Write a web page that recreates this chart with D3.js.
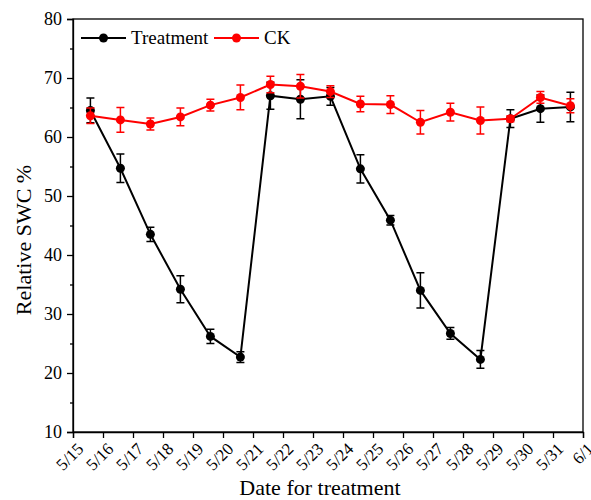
<!DOCTYPE html>
<html>
<head>
<meta charset="utf-8">
<title>Relative SWC</title>
<style>
body { margin: 0; background: #fff; }
svg text { font-family: "Liberation Serif", "Times New Roman", serif; }
</style>
</head>
<body>
<script src="https://d3js.org/d3.v7.min.js"></script>
<script>
// dates of measurement (day of May), tick labels of the x axis
var days = [15, 16, 17, 18, 19, 20, 21, 22, 23, 24, 25, 26, 27, 28, 29, 30, 31];
var tickDays = [15, 16, 17, 18, 19, 20, 21, 22, 23, 24, 25, 26, 27, 28, 29, 30, 31, 32];
var tickLabels = ["5/15", "5/16", "5/17", "5/18", "5/19", "5/20", "5/21", "5/22", "5/23",
  "5/24", "5/25", "5/26", "5/27", "5/28", "5/29", "5/30", "5/31", "6/1"];

// relative SWC %, mean and error
var treatment = [64.5, 54.7, 43.5, 34.2, 26.2, 22.7, 67.0, 66.4, 66.9, 54.6, 45.9, 34.0, 26.7, 22.3, 63.1, 64.8, 65.1];
var treatmentErr = [2.1, 2.4, 1.2, 2.3, 1.2, 0.9, 2.3, 3.3, 1.5, 2.4, 0.8, 3.0, 1.0, 1.5, 1.5, 2.3, 2.5];
var ck = [63.6, 62.9, 62.2, 63.4, 65.4, 66.7, 68.9, 68.6, 67.7, 65.6, 65.5, 62.5, 64.2, 62.8, 63.1, 66.7, 65.3];
var ckErr = [1.3, 2.1, 1.0, 1.5, 1.0, 2.1, 1.4, 2.0, 1.0, 1.3, 1.5, 2.0, 1.5, 2.3, 0.5, 1.0, 1.2];
var yTicks = [10, 20, 30, 40, 50, 60, 70, 80];
var yMinor = [15, 25, 35, 45, 55, 65, 75];

var width = 591, height = 500;
var margin = {top: 19, right: 8, bottom: 68, left: 73};
var shift = 0.58; // punkty pomiedzy kreskami dni

var svg = d3.select('body').append('svg')
  .attr('width', width)
  .attr('height', height)
  .attr('font-family', '"Liberation Serif", serif');

var x = d3.scaleLinear().domain([15, 32]).range([margin.left, width - margin.right]);
var y = d3.scaleLinear().domain([10, 80]).range([height - margin.bottom, margin.top]);

// ramka
svg.append('rect')
  .attr('x', margin.left)
  .attr('y', margin.top)
  .attr('width', width - margin.right - margin.left)
  .attr('height', height - margin.bottom - margin.top)
  .attr('fill', 'none')
  .attr('stroke', '#000')
  .attr('stroke-width', 1.3);

// os y
var yAxis = svg.append('g')
  .attr('transform', 'translate(' + margin.left + ',0)')
  .call(d3.axisLeft(y).tickValues(yTicks).tickSize(6).tickPadding(5));
svg.append('g')
  .attr('transform', 'translate(' + margin.left + ',0)')
  .call(d3.axisLeft(y).tickValues(yMinor).tickSize(3).tickFormat(''))
  .select('.domain').remove();

// os x
var xAxis = svg.append('g')
  .attr('transform', 'translate(0,' + (height - margin.bottom) + ')')
  .call(d3.axisBottom(x).tickValues(tickDays).tickSize(6)
    .tickFormat(function(d, i) { return tickLabels[i]; }));

svg.selectAll('g.tick').select('text').attr('fill', '#000');
svg.selectAll('.domain').attr('stroke-width', 1.3);
svg.selectAll('.tick line').attr('stroke-width', 1.3);
svg.selectAll('g').attr('font-family', null).attr('font-size', null);

yAxis.selectAll('.tick text').style('font-size', '18px');
xAxis.selectAll('.tick text')
  .attr('x', null)
  .attr('y', null)
  .attr('dy', null)
  .attr('text-anchor', 'end')
  .attr('transform', 'translate(11,18) rotate(-45)')
  .style('font-size', '17px');

// tytuly osi
svg.append('text')
  .attr('x', 320)
  .attr('y', 495)
  .attr('text-anchor', 'middle')
  .style('font-size', '22px')
  .text('Date for treatment');
svg.append('text')
  .attr('transform', 'translate(31,240) rotate(-90)')
  .attr('text-anchor', 'middle')
  .style('font-size', '22px')
  .text('Relative SWC %');

function drawSeries(values, errs, color) {
  var pts = values.map(function(v, i) { return {d: days[i] + shift, v: v, e: errs[i]}; });
  var g = svg.append('g');
  var cap = 4;
  g.selectAll('path.err')
    .data(pts)
    .enter()
    .append('path')
    .attr('class', 'err')
    .attr('d', function(p) {
      var cx = x(p.d), t = y(p.v + p.e), b = y(p.v - p.e);
      return 'M' + (cx - cap) + ',' + t + 'H' + (cx + cap) +
        'M' + cx + ',' + t + 'V' + b +
        'M' + (cx - cap) + ',' + b + 'H' + (cx + cap);
    })
    .attr('fill', 'none')
    .attr('stroke', color)
    .attr('stroke-width', 1.5);
  g.append('path')
    .datum(pts)
    .attr('d', d3.line().x(function(p) { return x(p.d); }).y(function(p) { return y(p.v); }))
    .attr('fill', 'none')
    .attr('stroke', color)
    .attr('stroke-width', 2);
  g.selectAll('circle')
    .data(pts)
    .enter()
    .append('circle')
    .attr('cx', function(p) { return x(p.d); })
    .attr('cy', function(p) { return y(p.v); })
    .attr('r', 4.5)
    .attr('fill', color);
}

drawSeries(treatment, treatmentErr, '#000');
drawSeries(ck, ckErr, '#ff0000');

// legenda
var legend = [{name: 'Treatment', color: '#000', x0: 81}, {name: 'CK', color: '#ff0000', x0: 214}];
legend.forEach(function(l) {
  svg.append('line')
    .attr('x1', l.x0).attr('x2', l.x0 + 45)
    .attr('y1', 38).attr('y2', 38)
    .attr('stroke', l.color).attr('stroke-width', 2);
  svg.append('circle')
    .attr('cx', l.x0 + 22.5).attr('cy', 38).attr('r', 4.5)
    .attr('fill', l.color);
  svg.append('text')
    .attr('x', l.x0 + 50).attr('y', 44)
    .style('font-size', '19px')
    .text(l.name);
});
</script>
</body>
</html>
